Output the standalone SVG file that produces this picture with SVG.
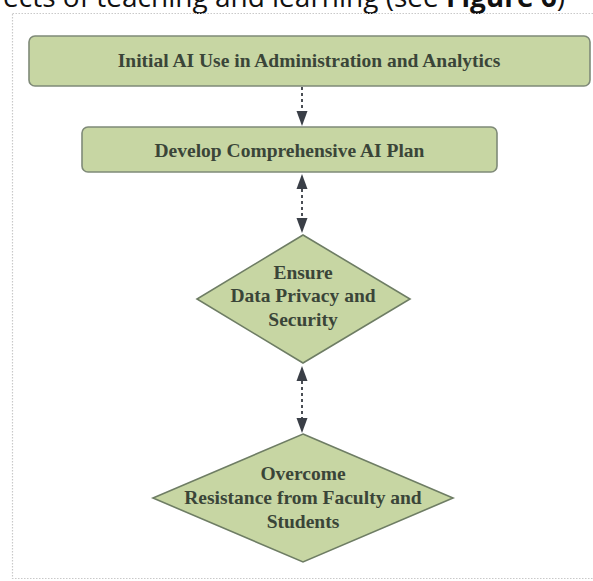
<svg xmlns="http://www.w3.org/2000/svg" width="593" height="581" viewBox="0 0 593 581">
<defs>
<style>
.box{fill:#c7d6a3;stroke:#7f8a78;stroke-width:1.6}
.dia{fill:#c7d6a3;stroke:#6e7d64;stroke-width:1.6}
.lbl{font-family:"Liberation Serif","Times New Roman",serif;font-weight:bold;font-size:19.5px;fill:#3a4538;text-anchor:middle}
.con{stroke:#4a4e55;stroke-width:2;stroke-dasharray:3 3;fill:none}
.head{fill:#3a3f47}
.frame{fill:none;stroke:#c9c9c9;stroke-width:1.2;stroke-dasharray:1.5 1.5}
.hdr{font-family:"Open Sans","Liberation Sans",sans-serif;font-size:28px;fill:#111}
</style>
</defs>
<rect width="593" height="581" fill="#ffffff"/>
<text class="hdr" x="565" y="7" text-anchor="end">ects of teaching and learning (see <tspan font-weight="bold">Figure 6</tspan>)</text>
<rect class="frame" x="12.5" y="13.5" width="600" height="565"/>
<g id="connectors">
<line class="con" x1="302" y1="87" x2="302" y2="112"/>
<polygon class="head" points="296.5,111 307.5,111 302,126"/>
<line class="con" x1="302" y1="189" x2="302" y2="219"/>
<polygon class="head" points="296.5,189 307.5,189 302,174"/>
<polygon class="head" points="296.5,218 307.5,218 302,233"/>
<line class="con" x1="302" y1="381" x2="302" y2="418"/>
<polygon class="head" points="296.5,381 307.5,381 302,366"/>
<polygon class="head" points="296.5,418 307.5,418 302,433"/>
</g>
<g id="node-initial">
<rect class="box" x="29" y="36" width="561" height="50" rx="6"/>
<text class="lbl" x="309" y="67">Initial AI Use in Administration and Analytics</text>
</g>
<g id="node-plan">
<rect class="box" x="82" y="127" width="415" height="45" rx="6"/>
<text class="lbl" x="289.5" y="157">Develop Comprehensive AI Plan</text>
</g>
<g id="node-privacy">
<polygon class="dia" points="303,235 410,299 303,363 197,299"/>
<text class="lbl" x="303" y="279">Ensure</text>
<text class="lbl" x="303" y="302">Data Privacy and</text>
<text class="lbl" x="303" y="326">Security</text>
</g>
<g id="node-resistance">
<polygon class="dia" points="303,434 453,498 303,562 153,498"/>
<text class="lbl" x="303" y="480">Overcome</text>
<text class="lbl" x="303" y="504">Resistance from Faculty and</text>
<text class="lbl" x="303" y="528">Students</text>
</g>
</svg>
